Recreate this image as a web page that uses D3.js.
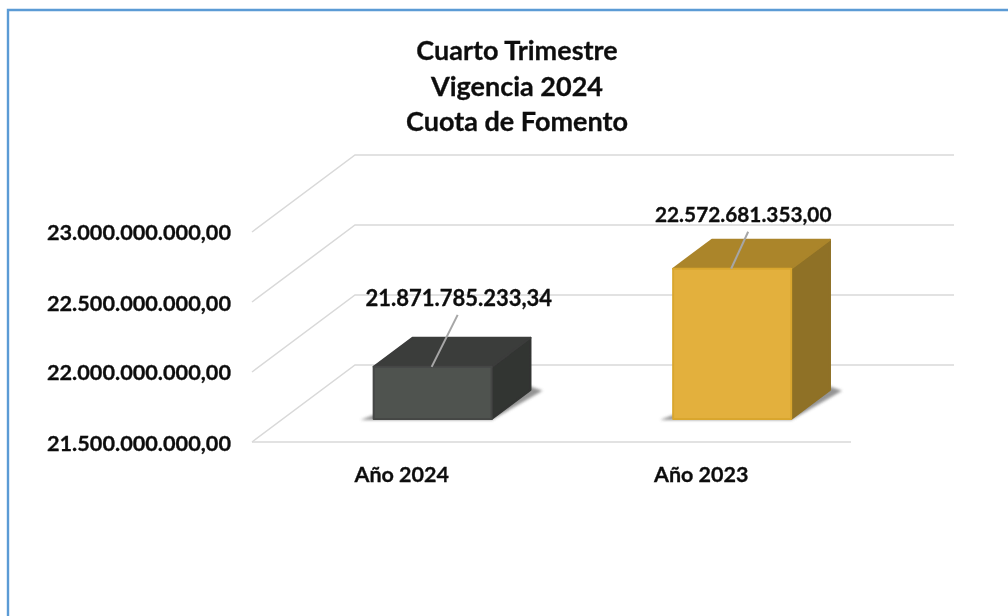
<!DOCTYPE html>
<html><head><meta charset="utf-8">
<script src="https://cdnjs.cloudflare.com/ajax/libs/d3/7.8.5/d3.min.js"></script>
<style>html,body{margin:0;padding:0;background:#fff}svg{display:block}
text{font-family:Lato,"Noto Sans",sans-serif;font-weight:700;fill:#0d0d0d;stroke:#0d0d0d;stroke-width:.3}</style>
</head><body><svg id="c" width="1008" height="616"></svg>
<script>
const titleLines = ["Cuarto Trimestre","Vigencia 2024","Cuota de Fomento"];
const categories = ["Año 2024","Año 2023"];
const values = [21871785233.34, 22572681353.00];
const valueLabels = ["21.871.785.233,34","22.572.681.353,00"];
const tickValues = [21500000000,22000000000,22500000000,23000000000];
const tickLabels = ["21.500.000.000,00","22.000.000.000,00","22.500.000.000,00","23.000.000.000,00"];
const frontColors = ["#4f5250","#e3b03c"];
const topColors = ["#3b3c3b","#ab852c"];
const sideColors = ["#333433","#8f7126"];
const edgeColors = ["#444645","#d9a62f"];

const svg = d3.select("#c");
const defs = svg.append("defs");
defs.append("filter").attr("id","soft").append("feGaussianBlur").attr("stdDeviation",0.45);
defs.append("filter").attr("id","shadow").attr("x","-20%").attr("y","-20%").attr("width","140%").attr("height","140%")
  .append("feGaussianBlur").attr("stdDeviation",1.6);

const y = d3.scaleLinear().domain([21500000000,23000000000]).range([442,232]);
const x = d3.scaleBand().domain(categories).range([252,851]);
const dx = d3.scaleLinear().domain([0,1]).range([0,103]);
const dy = d3.scaleLinear().domain([0,1]).range([0,-77]);
const base = y.domain()[0];
const P = (px,v,z) => [px+dx(z), y(v)+dy(z)];
const poly = pts => "M"+pts.map(p=>p.join(",")).join("L")+"Z";

// frame
svg.append("path").attr("d","M8,616V10H1008").attr("fill","none").attr("stroke","#5b9bd5").attr("stroke-width",2.4);

const root = svg.append("g").attr("filter","url(#soft)");
// gridlines
root.append("g").selectAll("path").data(tickValues).join("path")
  .attr("d",v=>{
    const a=P(252,v,0), b=P(252,v,1), c=P(851,v,1);
    return "M"+a+"L"+b+"L"+c;
  }).attr("fill","none").attr("stroke","#d9d9d9").attr("stroke-width",1.5);
root.append("path").attr("d","M"+P(252,base,0)+"L"+P(851,base,0)).attr("stroke","#d9d9d9").attr("stroke-width",1.5);

// bars
const zFront=0.3, zBack=0.677, barW=118;
const bars = root.append("g").selectAll("g").data(categories.map((c,i)=>({c,i,v:values[i]}))).join("g");
const L = d=>x(d.c)+x.bandwidth()/2-barW/2, R = d=>L(d)+barW;
bars.append("path").attr("filter","url(#shadow)").attr("fill","#6f6f6f").attr("opacity",.75)
  .attr("d",d=>{
    const f=P(L(d),base,zFront), g=P(R(d),base,zFront), h=P(R(d),base,zBack);
    return poly([[f[0]-13,f[1]+1],[g[0],g[1]+1],[h[0]+12,h[1]+1],[h[0]-8,h[1]-6],[g[0],g[1]-4],[f[0],f[1]-4]]);
  });
const face = (sel,colors,pts,edge)=>sel.append("path").attr("fill",d=>colors[d.i]).attr("stroke",d=>(edge||colors)[d.i])
  .attr("stroke-linejoin","round").attr("stroke-width",2).attr("d",d=>poly(pts(d)));
face(bars,sideColors,d=>[P(R(d),d.v,zFront),P(R(d),d.v,zBack),P(R(d),base,zBack),P(R(d),base,zFront)]);
face(bars,topColors,d=>[P(L(d),d.v,zFront),P(L(d),d.v,zBack),P(R(d),d.v,zBack),P(R(d),d.v,zFront)]);
face(bars,frontColors,d=>[P(L(d),d.v,zFront),P(R(d),d.v,zFront),P(R(d),base,zFront),P(L(d),base,zFront)],edgeColors);
// leader lines
bars.append("path").attr("stroke","#a6a6a6").attr("stroke-width",2).attr("fill","none")
  .attr("d",d=>{const t=P((L(d)+R(d))/2,d.v,zFront); return `M${t[0]-1},${t[1]}L${t[0]+(d.i?16:25)},${t[1]-(d.i?37:52)}`;});

// labels
const lab = svg.append("g").attr("filter","url(#soft)");
lab.selectAll(".tl").data(titleLines).join("text").attr("class","tl")
  .attr("x",517).attr("y",(d,i)=>60+i*35.5).attr("text-anchor","middle").attr("font-size",27).text(d=>d);
lab.selectAll(".tick").data(tickValues).join("text").attr("class","tick")
  .attr("x",231).attr("y",(d,i)=>y(d)+7.5+(i%2?0:1)).attr("text-anchor","end").attr("font-size",21.7).text((d,i)=>tickLabels[i]);
lab.selectAll(".cat").data(categories).join("text").attr("class","cat")
  .attr("x",d=>x(d)+x.bandwidth()/2).attr("y",482).attr("text-anchor","middle").attr("font-size",21.5).text(d=>d);
lab.selectAll(".val").data(values).join("text").attr("class","val")
  .attr("x",(d,i)=>x(categories[i])+x.bandwidth()/2+(i?42:57)).attr("y",(d,i)=>y(d)+dy(zFront)-(i?47:61)).attr("text-anchor","middle").attr("font-size",(d,i)=>i?20.8:22)
  .text((d,i)=>valueLabels[i]);
</script></body></html>
